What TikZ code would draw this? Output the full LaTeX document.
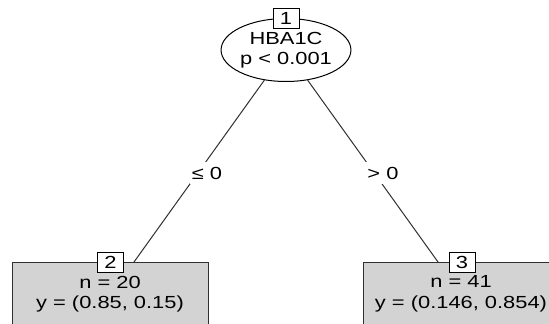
\documentclass[tikz,border=0pt]{standalone}
\usepackage{fontspec}
\setmainfont{Liberation Sans}[FakeStretch=1.25]
\usetikzlibrary{shapes.geometric}
\definecolor{leafgray}{HTML}{D3D3D3}
\definecolor{edgegray}{HTML}{303030}
\tikzset{
  treetext/.style={font=\fontsize{17.5}{20.5}\selectfont, align=center},
  innernode/.style={ellipse, draw=black, line width=1pt, fill=white, minimum width=124pt, minimum height=63pt, inner sep=0pt, treetext},
  idbox/.style={rectangle, draw=black, line width=1pt, fill=white, minimum width=26pt, minimum height=20pt, inner sep=0pt, treetext},
  leafbox/.style={rectangle, draw=edgegray, line width=1pt, fill=leafgray, anchor=north west, minimum height=70pt, inner sep=0pt},
  edgelab/.style={fill=white, inner xsep=2pt, inner ysep=5pt, treetext},
  treeedge/.style={draw=edgegray, line width=1pt}
}
\begin{document}
\begin{tikzpicture}[x=1pt,y=-1pt]
\clip (0,0) rectangle (549,324);
\fill[white] (0,0) rectangle (549,324);
% leaves
\node[leafbox, minimum width=196pt] (leaf2) at (12,262) {};
\node[leafbox, minimum width=200pt] (leaf3) at (363,262) {};
\node[treetext] (txt2) at (110,294) {n = 20\\y = (0.85, 0.15)};
\node[treetext] (txt3) at (461,294) {n = 41\\y = (0.146, 0.854)};
% root
\node[innernode] (root) at (286,50) {HBA1C\\p < 0.001};
\coordinate (c2) at (134,262);
\coordinate (c3) at (438,262);
\draw[treeedge] (root) -- (c2);
\draw[treeedge] (root) -- (c3);
\node[edgelab] (lab2) at (207,173) {≤ 0};
\node[edgelab] (lab3) at (383,173) {> 0};
% id boxes
\node[idbox] (id1) at (286,18) {1};
\node[idbox] (id2) at (110.5,262) {2};
\node[idbox] (id3) at (462,262) {3};
\end{tikzpicture}
\end{document}
